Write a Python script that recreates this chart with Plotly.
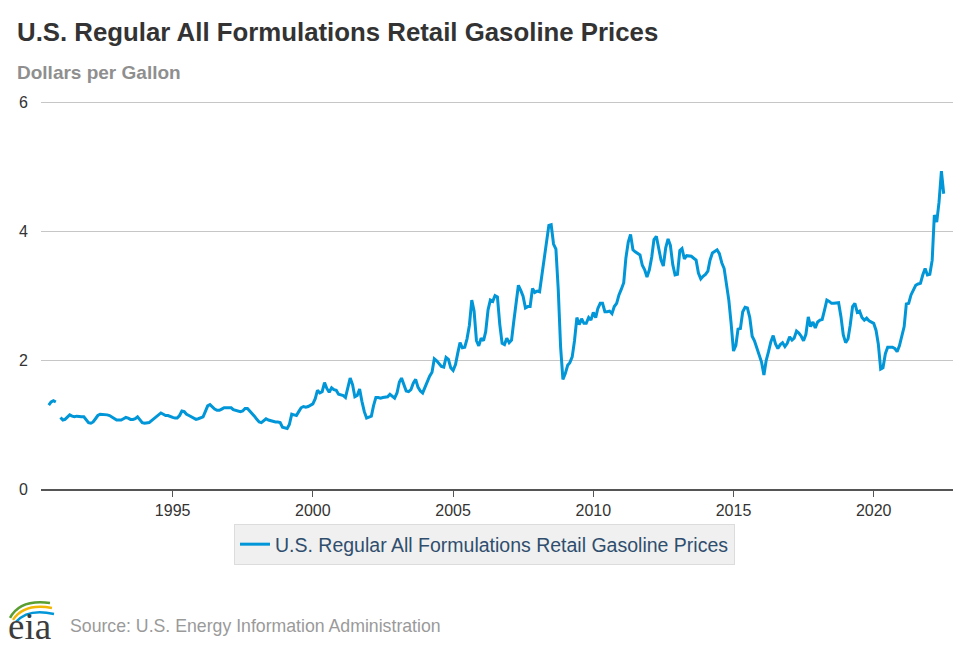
import plotly.graph_objects as go
import pandas as pd

# Monthly U.S. regular all formulations retail gasoline prices ($/gal), Aug 1990 - Jul 2022
p1990 = [1.30, 1.35, 1.37, 1.35, None]  # Aug-Dec (Dec missing)
p1991 = [1.11, 1.07, 1.08, 1.12, 1.15, 1.13, 1.12, 1.13, 1.12, 1.12, 1.12, 1.07]
p1992 = [1.03, 1.02, 1.04, 1.09, 1.14, 1.16, 1.16, 1.15, 1.15, 1.14, 1.12, 1.09]
p1993 = [1.07, 1.07, 1.07, 1.09, 1.11, 1.10, 1.08, 1.08, 1.09, 1.12, 1.08, 1.03]
p1994 = [1.02, 1.03, 1.03, 1.06, 1.09, 1.12, 1.15, 1.18, 1.16, 1.14, 1.14, 1.12]
p1995 = [1.11, 1.10, 1.10, 1.14, 1.21, 1.20, 1.16, 1.14, 1.12, 1.10, 1.08, 1.09]
p1996 = [1.10, 1.12, 1.20, 1.29, 1.31, 1.27, 1.24, 1.22, 1.22, 1.24, 1.26, 1.26]
p1997 = [1.26, 1.26, 1.23, 1.22, 1.21, 1.20, 1.21, 1.25, 1.25, 1.21, 1.18, 1.13]
p1998 = [1.08, 1.04, 1.03, 1.06, 1.09, 1.07, 1.06, 1.04, 1.04, 1.04, 1.03, 0.96]
p1999 = [0.95, 0.94, 1.00, 1.16, 1.15, 1.14, 1.20, 1.26, 1.28, 1.27, 1.28, 1.30]
p2000 = [1.32, 1.40, 1.53, 1.49, 1.51, 1.65, 1.56, 1.50, 1.57, 1.54, 1.53, 1.47]
p2001 = [1.46, 1.45, 1.42, 1.57, 1.72, 1.62, 1.43, 1.45, 1.55, 1.36, 1.20, 1.10]
p2002 = [1.11, 1.13, 1.29, 1.42, 1.42, 1.41, 1.42, 1.42, 1.43, 1.47, 1.44, 1.41]
p2003 = [1.49, 1.66, 1.72, 1.60, 1.52, 1.51, 1.54, 1.64, 1.70, 1.58, 1.52, 1.49]
p2004 = [1.58, 1.67, 1.75, 1.81, 2.02, 1.99, 1.95, 1.90, 1.89, 2.04, 2.01, 1.88]
p2005 = [1.84, 1.93, 2.10, 2.27, 2.19, 2.20, 2.33, 2.54, 2.93, 2.76, 2.30, 2.22]
p2006 = [2.34, 2.30, 2.44, 2.78, 2.93, 2.91, 3.00, 2.98, 2.55, 2.26, 2.24, 2.34]
p2007 = [2.27, 2.31, 2.59, 2.89, 3.16, 3.08, 2.99, 2.81, 2.83, 2.83, 3.11, 3.05]
p2008 = [3.07, 3.06, 3.29, 3.53, 3.80, 4.09, 4.10, 3.80, 3.72, 3.10, 2.20, 1.70]
p2009 = [1.79, 1.92, 1.96, 2.05, 2.30, 2.66, 2.55, 2.64, 2.57, 2.57, 2.66, 2.62]
p2010 = [2.74, 2.66, 2.80, 2.88, 2.88, 2.75, 2.75, 2.76, 2.72, 2.83, 2.88, 3.01]
p2011 = [3.10, 3.20, 3.58, 3.83, 3.95, 3.71, 3.68, 3.66, 3.63, 3.47, 3.40, 3.29]
p2012 = [3.40, 3.60, 3.87, 3.92, 3.73, 3.55, 3.46, 3.74, 3.88, 3.78, 3.48, 3.32]
p2013 = [3.33, 3.70, 3.73, 3.57, 3.62, 3.62, 3.61, 3.58, 3.55, 3.35, 3.26, 3.30]
p2014 = [3.33, 3.38, 3.55, 3.66, 3.69, 3.71, 3.65, 3.51, 3.42, 3.19, 2.93, 2.57]
p2015 = [2.14, 2.23, 2.48, 2.49, 2.75, 2.82, 2.81, 2.66, 2.37, 2.30, 2.18, 2.06]
p2016 = [1.97, 1.77, 1.99, 2.13, 2.28, 2.38, 2.25, 2.18, 2.24, 2.27, 2.21, 2.26]
p2017 = [2.36, 2.31, 2.34, 2.45, 2.42, 2.37, 2.30, 2.40, 2.67, 2.52, 2.59, 2.50]
p2018 = [2.59, 2.62, 2.63, 2.78, 2.93, 2.91, 2.88, 2.88, 2.88, 2.89, 2.67, 2.39]
p2019 = [2.27, 2.33, 2.54, 2.83, 2.88, 2.74, 2.76, 2.66, 2.62, 2.65, 2.61, 2.59]
p2020 = [2.57, 2.46, 2.25, 1.86, 1.88, 2.10, 2.20, 2.20, 2.20, 2.18, 2.13, 2.22]
p2021 = [2.35, 2.52, 2.87, 2.88, 3.01, 3.08, 3.16, 3.18, 3.19, 3.32, 3.42, 3.32]
p2022 = [3.33, 3.55, 4.25, 4.14, 4.45, 4.93, 4.58]

series_name = "U.S. Regular All Formulations Retail Gasoline Prices"
start_month = "1990-08-01"
x_tick_years = [1995, 2000, 2005, 2010, 2015, 2020]
y_tick_values = [0, 2, 4, 6]

prices = (p1990 + p1991 + p1992 + p1993 + p1994 + p1995 + p1996 + p1997 + p1998
          + p1999 + p2000 + p2001 + p2002 + p2003 + p2004 + p2005 + p2006 + p2007
          + p2008 + p2009 + p2010 + p2011 + p2012 + p2013 + p2014 + p2015 + p2016
          + p2017 + p2018 + p2019 + p2020 + p2021 + p2022)
dates = pd.date_range(start_month, periods=len(prices), freq="MS")

# Page geometry (the page body adds an 8px margin around the figure)
OFF = 8
PAGE_W, PAGE_H = 970, 647
FIG_W, FIG_H = PAGE_W - OFF, PAGE_H - OFF
Y_TOP_VAL = 6.05
L, R, B = 41, 953.3, 489            # page pixels of plot-area left/right/bottom
PX_PER_UNIT = (489 - 102) / 6.0
T = B - Y_TOP_VAL * PX_PER_UNIT      # page pixel of plot-area top

def PX(px):
    return (px - L) / (R - L)
def PY(py):
    return (B - py) / (B - T)

FONT = "Liberation Sans, Arial, Helvetica, sans-serif"

fig = go.Figure()
fig.add_trace(go.Scatter(
    x=dates, y=prices, mode="lines", name=series_name,
    line=dict(color="#0096d7", width=3), connectgaps=False,
))

fig.update_layout(
    width=FIG_W, height=FIG_H,
    margin=dict(l=L - OFF, r=PAGE_W - R, t=T - OFF, b=PAGE_H - B, autoexpand=False),
    paper_bgcolor="white", plot_bgcolor="white",
    font=dict(family=FONT, color="#333333"),
    showlegend=True,
    legend=dict(
        orientation="h", xref="container", yref="container",
        x=(484.5 - OFF) / FIG_W, xanchor="center",
        y=1 - (524 - OFF) / FIG_H, yanchor="top",
        bgcolor="#f0f0f0", bordercolor="#dcdcdc", borderwidth=1,
        font=dict(family=FONT, size=19.5, color="#2f4e6e"),
    ),
)

fig.update_xaxes(
    type="date", range=["1990-04-22", "2022-10-30"],
    tickvals=[f"{y}-01-01" for y in x_tick_years],
    ticktext=[str(y) for y in x_tick_years],
    showgrid=False, showline=True, linecolor="#555555", linewidth=2,
    ticks="outside", ticklen=6, tickcolor="#555555", tickwidth=1,
    tickfont=dict(family=FONT, size=16, color="#333333"),
    zeroline=False, automargin=False,
)
fig.update_yaxes(
    range=[0, Y_TOP_VAL], tickvals=y_tick_values, ticktext=[str(v) for v in y_tick_values],
    showgrid=True, gridcolor="#c6c6c6", gridwidth=1,
    zeroline=False, showline=False, ticks="",
    tickfont=dict(family=FONT, size=16, color="#333333"),
    ticklabelstandoff=12, automargin=False,
)

annotations = [
    dict(text="U.S. Regular All Formulations Retail Gasoline Prices",
         x=PX(15), y=PY(32), xanchor="left", yanchor="middle",
         font=dict(family=FONT, size=25.8, color="#333333", weight="bold")),
    dict(text="Dollars per Gallon", x=PX(15), y=PY(72), xanchor="left", yanchor="middle",
         font=dict(family=FONT, size=19, color="#8f8f8f", weight="bold")),
    dict(text="Source: U.S. Energy Information Administration",
         x=PX(68), y=PY(626), xanchor="left", yanchor="middle",
         font=dict(family=FONT, size=17.7, color="#9a9a9a")),
    dict(text="eia", x=PX(6), y=PY(627), xanchor="left", yanchor="middle",
         font=dict(family="Liberation Serif, serif", size=37, color="#3c3c3c")),
]
for a in annotations:
    a.update(xref="paper", yref="paper", showarrow=False)
fig.update_layout(annotations=annotations)

def arc(p0, c, p1, color):
    return dict(type="path", xref="paper", yref="paper",
                path=f"M {PX(p0[0])},{PY(p0[1])} Q {PX(c[0])},{PY(c[1])} {PX(p1[0])},{PY(p1[1])}",
                line=dict(color=color, width=2.5))

fig.update_layout(shapes=[
    arc((10, 618), (20, 599), (50, 603), "#5a9e32"),
    arc((13, 620), (24, 603), (52, 608), "#f2b705"),
    arc((16, 622), (28, 608), (54, 614), "#0096d7"),
])

fig.write_html("out.html")
